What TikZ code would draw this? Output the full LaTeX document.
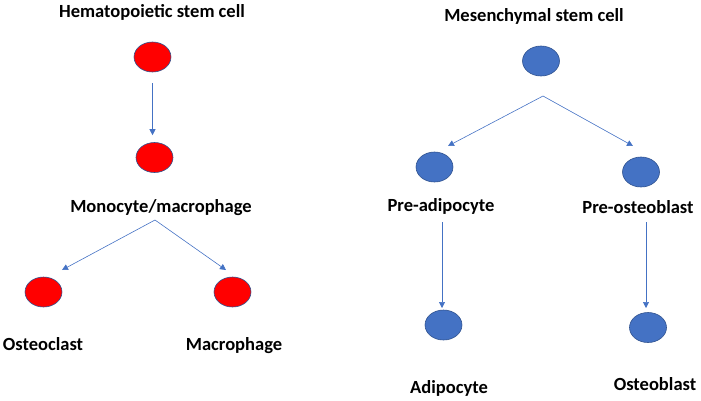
\documentclass[tikz,border=0pt]{standalone}
\usepackage{fontspec}
\setmainfont{Carlito}
\usetikzlibrary{arrows.meta,shapes.geometric}
\definecolor{cellred}{RGB}{255,0,0}
\definecolor{cellblue}{RGB}{68,114,196}
\definecolor{cellrim}{RGB}{47,82,143}
\definecolor{linkblue}{RGB}{68,114,196}

\begin{document}
\begin{tikzpicture}[x=1bp,y=-1bp,
	redcell/.style={ellipse, fill=cellred, draw=cellrim, line width=.6pt, minimum width=37bp, minimum height=30bp, inner sep=0pt},
	bluecell/.style={ellipse, fill=cellblue, draw=cellrim, line width=.6pt, minimum width=37bp, minimum height=30bp, inner sep=0pt},
	lbl/.style={anchor=base, inner sep=0pt, font=\fontsize{18.6}{22}\selectfont\bfseries},
	link/.style={draw=linkblue, line width=.6pt, -{Triangle[length=6bp,width=6bp]}}]
	\useasboundingbox (0,0) rectangle (701,400);
	% hematopoietic side
	\draw (152,17) node[lbl] (hsclbl) {Hematopoietic stem cell};
	\draw (152.5,57) node[redcell] (hsc) {};
	\draw (154.5,157.5) node[redcell] (mono) {};
	\draw (161,212) node[lbl] (monolbl) {Monocyte/macrophage};
	\draw (43.5,292) node[redcell] (oclast) {};
	\draw (232.5,292) node[redcell] (mphage) {};
	\draw (43,350) node[lbl] (oclastlbl) {Osteoclast};
	\draw (234,350) node[lbl] (mphagelbl) {Macrophage};
	\coordinate (monofork) at (155,220);
	\coordinate (oclasttip) at (62,270);
	\coordinate (mphagetip) at (226,270);
	\draw (hsc.south) edge[link, shorten <=11bp, shorten >=7bp] (hsc.south |- mono.north);
	\draw (monofork) edge[link] (oclasttip);
	\draw (monofork) edge[link] (mphagetip);
	% mesenchymal side
	\draw (534,21) node[lbl] (msclbl) {Mesenchymal stem cell};
	\draw (541,61) node[bluecell] (msc) {};
	\draw (434.5,167) node[bluecell] (preadipo) {};
	\draw (641,172) node[bluecell] (preosteo) {};
	\draw (441,211) node[lbl] (preadipolbl) {Pre-adipocyte};
	\draw (638,213) node[lbl] (preosteolbl) {Pre-osteoblast};
	\draw (443.5,325) node[bluecell] (adipo) {};
	\draw (648,327.5) node[bluecell] (osteo) {};
	\draw (449,393) node[lbl] (adipolbl) {Adipocyte};
	\draw (655,390) node[lbl] (osteolbl) {Osteoblast};
	\coordinate (mscfork) at (543,96);
	\coordinate (preadipotip) at (448,146);
	\coordinate (preosteotip) at (633,146);
	\coordinate (adipotop) at (442,222);
	\coordinate (adipotip) at (442,308);
	\coordinate (osteotop) at (646,222);
	\coordinate (osteotip) at (646,308);
	\draw (mscfork) edge[link] (preadipotip);
	\draw (mscfork) edge[link] (preosteotip);
	\draw (adipotop) edge[link] (adipotip);
	\draw (osteotop) edge[link] (osteotip);
\end{tikzpicture}
\end{document}
